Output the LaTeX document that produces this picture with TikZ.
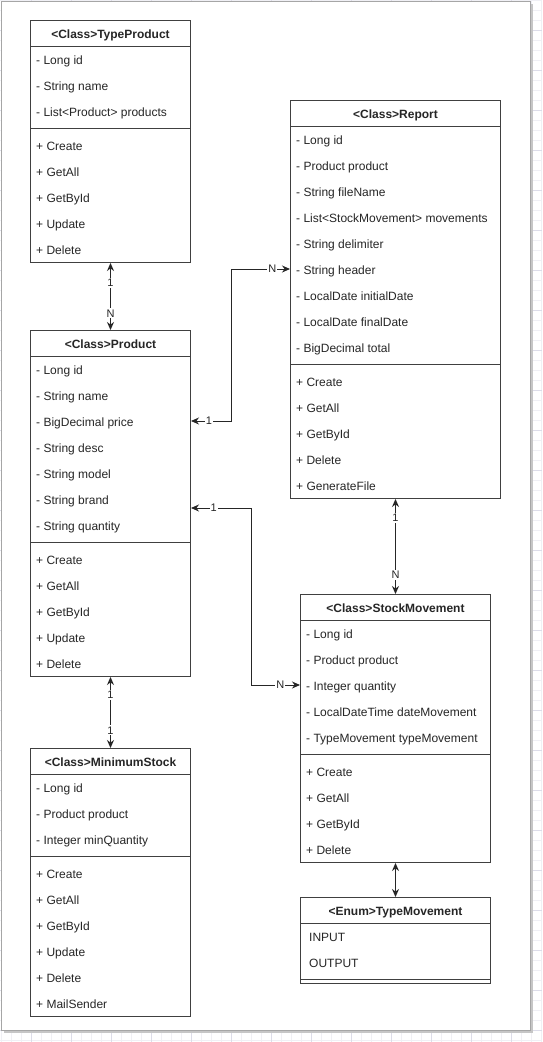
\documentclass[tikz,border=0pt]{standalone}
\usepackage{fontspec}
\setmainfont{Liberation Sans}
\usetikzlibrary{arrows.meta, calc}

\begin{document}
\begin{tikzpicture}[
        x=1pt, y=-1pt,
        every node/.style={font=\fontsize{12pt}{14pt}\selectfont, text=black!85},
        classbox/.style={rectangle, draw=black!75, line width=1pt, fill=white, anchor=north west, inner sep=0pt},
        title/.style={rectangle, draw=black!75, line width=1pt, anchor=north west, minimum height=26pt, inner sep=0pt, text height=10pt, text depth=0pt, font=\fontsize{12pt}{14pt}\selectfont\bfseries},
        attr/.style={anchor=west, inner sep=0pt, text height=11pt, text depth=0pt},
        divider/.style={draw=black!75, line width=1pt},
        assoc/.style={{Stealth[length=8pt, width=7pt]}-{Stealth[length=8pt, width=7pt]}, draw=black!85, line width=1pt},
        lbl/.style={fill=white, inner sep=1pt, font=\fontsize{11pt}{12pt}\selectfont},
        gridmin/.style={draw=blue!20!gray!10, line width=0.5pt},
        gridmaj/.style={draw=blue!20!gray!22, line width=0.6pt}
    ]

    \useasboundingbox (0,0) rectangle (542,1042);
    \fill[white] (0,0) rectangle (542,1042);
    \foreach \k in {0,...,104} \draw[gridmin] (0,10*\k) -- (542,10*\k);
    \foreach \k in {0,...,54} \draw[gridmin] (10*\k+1,0) -- (10*\k+1,1042);
    \foreach \k in {0,...,25} \draw[gridmaj] (0,40*\k+30) -- (542,40*\k+30);
    \foreach \k in {0,...,13} \draw[gridmaj] (40*\k+31,0) -- (40*\k+31,1042);
    \fill[gray!45] (4,4) rectangle (533,1033);
    \draw[fill=white, draw=gray!70, line width=1pt] (1,1) rectangle (530,1030);

    \node[classbox, minimum width=160pt, minimum height=242pt] (typeproduct) at (30,20) {};
    \node[title, minimum width=160pt] (typeproduct-h) at (30,20) {<Class>TypeProduct};
    \foreach \t [count=\i] in {- Long id, - String name, - List<Product> products}
        \node[attr] (typeproduct-a\i) at (36,33+26*\i) {\t};
    \draw[divider] (30,128) -- (190,128);
    \foreach \t [count=\i] in {+ Create, + GetAll, + GetById, + Update, + Delete}
        \node[attr] (typeproduct-m\i) at (36,119+26*\i) {\t};

    \node[classbox, minimum width=160pt, minimum height=346pt] (product) at (30,330) {};
    \node[title, minimum width=160pt] (product-h) at (30,330) {<Class>Product};
    \foreach \t [count=\i] in {- Long id, - String name, - BigDecimal price, - String desc, - String model, - String brand, - String quantity}
        \node[attr] (product-a\i) at (36,343+26*\i) {\t};
    \draw[divider] (30,542) -- (190,542);
    \foreach \t [count=\i] in {+ Create, + GetAll, + GetById, + Update, + Delete}
        \node[attr] (product-m\i) at (36,533+26*\i) {\t};

    \node[classbox, minimum width=160pt, minimum height=268pt] (minstock) at (30,748) {};
    \node[title, minimum width=160pt] (minstock-h) at (30,748) {<Class>MinimumStock};
    \foreach \t [count=\i] in {- Long id, - Product product, - Integer minQuantity}
        \node[attr] (minstock-a\i) at (36,761+26*\i) {\t};
    \draw[divider] (30,856) -- (190,856);
    \foreach \t [count=\i] in {+ Create, + GetAll, + GetById, + Update, + Delete, + MailSender}
        \node[attr] (minstock-m\i) at (36,847+26*\i) {\t};

    \node[classbox, minimum width=210pt, minimum height=398pt] (report) at (290,100) {};
    \node[title, minimum width=210pt] (report-h) at (290,100) {<Class>Report};
    \foreach \t [count=\i] in {- Long id, - Product product, - String fileName, - List<StockMovement> movements, - String delimiter, - String header, - LocalDate initialDate, - LocalDate finalDate, - BigDecimal total}
        \node[attr] (report-a\i) at (296,113+26*\i) {\t};
    \draw[divider] (290,364) -- (500,364);
    \foreach \t [count=\i] in {+ Create, + GetAll, + GetById, + Delete, + GenerateFile}
        \node[attr] (report-m\i) at (296,355+26*\i) {\t};

    \node[classbox, minimum width=190pt, minimum height=268pt] (stockmov) at (300,594) {};
    \node[title, minimum width=190pt] (stockmov-h) at (300,594) {<Class>StockMovement};
    \foreach \t [count=\i] in {- Long id, - Product product, - Integer quantity, - LocalDateTime dateMovement, - TypeMovement typeMovement}
        \node[attr] (stockmov-a\i) at (306,607+26*\i) {\t};
    \draw[divider] (300,754) -- (490,754);
    \foreach \t [count=\i] in {+ Create, + GetAll, + GetById, + Delete}
        \node[attr] (stockmov-m\i) at (306,745+26*\i) {\t};

    \node[classbox, minimum width=190pt, minimum height=86pt] (typemov) at (300,897) {};
    \node[title, minimum width=190pt] (typemov-h) at (300,897) {<Enum>TypeMovement};
    \foreach \t [count=\i] in {INPUT, OUTPUT}
        \node[attr] (typemov-a\i) at (309,910+26*\i) {\t};
    \draw[divider] (300,979) -- (490,979);

    \draw[assoc] (typeproduct.south) -- node[lbl, pos=0.3] {1} node[lbl, pos=0.75] {N} (product.north);
    \draw[assoc] (product.east |- product-a3) -- node[lbl, pos=0.45] {1} ++(40,0) |- node[lbl, pos=0.85] {N} (report.west |- report-a6);
    \draw[assoc] ($(product.north east)+(0,178)$) -- node[lbl, pos=0.38] {1} ++(60,0) |- node[lbl, pos=0.8] {N} (stockmov.west |- stockmov-a3);
    \draw[assoc] (report.south) -- node[lbl, pos=0.2] {1} node[lbl, pos=0.8] {N} (stockmov.north);
    \draw[assoc] (product.south) -- node[lbl, pos=0.25] {1} node[lbl, pos=0.75] {1} (minstock.north);
    \draw[assoc] (stockmov.south) -- (typemov.north);

\end{tikzpicture}
\end{document}
